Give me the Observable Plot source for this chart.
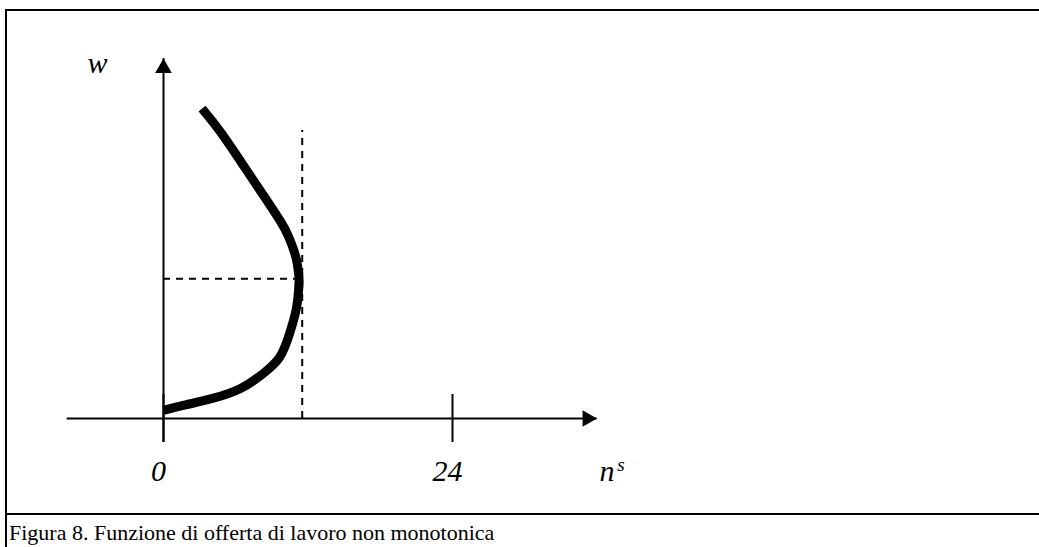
<!DOCTYPE html>
<html>
<head>
<meta charset="utf-8">
<script src="https://cdn.jsdelivr.net/npm/d3@7"></script>
<script src="https://cdn.jsdelivr.net/npm/@observablehq/plot@0.6"></script>
<style>
  html, body { margin: 0; padding: 0; background: #fff; overflow: hidden; }
  #page { position: relative; width: 1039px; height: 547px; overflow: hidden; }
  #chart { position: absolute; left: 0; top: 0; }
  #frame { position: absolute; left: 5px; top: 9px; width: 1032px; height: 538px;
           border-left: 2px solid #000; border-top: 2px solid #000; pointer-events: none; }
  #caption { position: absolute; left: 5px; top: 513px; width: 1032px; height: 34px;
             border-left: 2px solid #000; border-top: 2px solid #000;
             font-family: "Liberation Serif", "Times New Roman", serif; font-size: 22px;
             padding: 6px 0 0 2px; line-height: 1.12; color: #000; white-space: nowrap; }
</style>
</head>
<body>
<div id="page">
<div id="chart"></div>
<div id="frame"></div>
<div id="caption">Figura 8. Funzione di offerta di lavoro non monotonica</div>
</div>
<script>
// Labour supply curve (hours n, wage w)
const curveN = [0, 1.83, 4.07, 6.40, 8.18, 9.63, 10.47, 11.05, 11.25, 11.24, 11.09, 10.80, 10.38, 9.72, 8.31, 6.64, 4.73, 3.20];
const curveW = [0.67, 1.13, 1.67, 2.5, 3.67, 5.08, 7.08, 9.25, 11.25, 11.92, 13.0, 14.08, 15.17, 16.42, 18.58, 21.08, 23.88, 25.83];

// Peak of supply (dashed guides)
const peakN = 11.52;
const peakW = 11.64;
const guideTop = 24;

// Axes
const xTicks = [0, 24];
const xTickLabels = ["0", "24"];
const xAxisExtent = [-8, 36];
const yAxisExtent = [-2, 30];
const tickHalf = 2;
const xLabel = "n";
const xLabelSup = "s";
const yLabel = "w";

const curve = curveN.map((n, i) => ({n, w: curveW[i]}));
const ticks = xTicks.map((t, i) => ({t, label: xTickLabels[i]}));

const font = "Liberation Serif, Times New Roman, serif";

const chart = Plot.plot({
  width: 1039,
  height: 513,
  margin: 0,
  x: {domain: [0, 24], range: [163, 452], axis: null},
  y: {domain: [0, 30], range: [418, 58], axis: null},
  marks: [
    // dashed guides
    Plot.ruleX([peakN], {y1: 0, y2: guideTop, stroke: "#000", strokeWidth: 2, strokeDasharray: "7,6"}),
    Plot.ruleY([peakW], {x1: 0, x2: peakN, stroke: "#000", strokeWidth: 2, strokeDasharray: "7,6"}),
    // axes
    Plot.ruleY([0], {x1: xAxisExtent[0], x2: xAxisExtent[1], stroke: "#000", strokeWidth: 2}),
    Plot.ruleX([0], {y1: yAxisExtent[0], y2: yAxisExtent[1], stroke: "#000", strokeWidth: 2}),
    Plot.ruleX(ticks, {x: "t", y1: -tickHalf, y2: tickHalf, stroke: "#000", strokeWidth: 2}),
    // arrow heads
    Plot.dot([xAxisExtent[1]], {x: d => d, y: 0, symbol: "triangle", r: 6.2, fill: "#000", stroke: "none", rotate: 90, dx: -9.6}),
    Plot.dot([yAxisExtent[1]], {x: 0, y: d => d, symbol: "triangle", r: 6.2, fill: "#000", stroke: "none", dy: 9.6}),
    // supply curve
    Plot.line(curve, {x: "n", y: "w", curve: "natural", stroke: "#000", strokeWidth: 9, strokeLinecap: "butt", strokeLinejoin: "round"}),
    // labels
    Plot.text(ticks, {x: "t", y: 0, text: "label", dy: 62, dx: -5, lineAnchor: "bottom", textAnchor: "middle",
      fontFamily: font, fontStyle: "italic", fontSize: 30, fill: "#000"}),
    Plot.text([xLabel], {x: xAxisExtent[1], y: 0, text: d => d, dx: 10, dy: 62, lineAnchor: "bottom", textAnchor: "middle",
      fontFamily: font, fontStyle: "italic", fontSize: 30, fill: "#000"}),
    Plot.text([xLabelSup], {x: xAxisExtent[1], y: 0, text: d => d, dx: 24, dy: 52, lineAnchor: "bottom", textAnchor: "middle",
      fontFamily: font, fontStyle: "italic", fontSize: 19, fill: "#000"}),
    Plot.text([yLabel], {x: 0, y: yAxisExtent[1], text: d => d, dx: -66, dy: 14, lineAnchor: "bottom", textAnchor: "middle",
      fontFamily: font, fontStyle: "italic", fontSize: 30, fill: "#000"})
  ]
});
document.getElementById("chart").appendChild(chart);
</script>
</body>
</html>
